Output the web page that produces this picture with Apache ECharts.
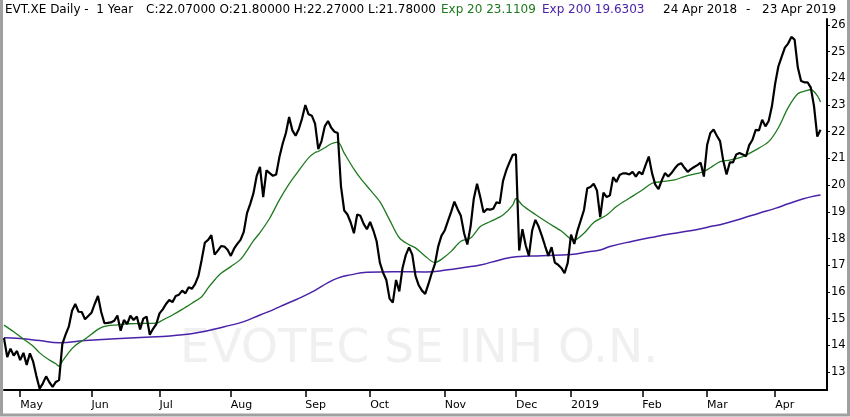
<!DOCTYPE html>
<html>
<head>
<meta charset="utf-8">
<script src="https://cdn.jsdelivr.net/npm/echarts@6/dist/echarts.min.js"></script>
<style>
  html, body { margin: 0; padding: 0; background: #fff; }
  #chart { width: 850px; height: 417px; }
</style>
</head>
<body>
<div id="chart"></div>
<script>
// trading calendar (Xetra), 24 Apr 2018 - 23 Apr 2019
const holidays = ["2018-05-01", "2018-12-24", "2018-12-25", "2018-12-26", "2018-12-31",
    "2019-01-01", "2019-04-19", "2019-04-22"];
const monthNames = ["Jan", "Feb", "Mar", "Apr", "May", "Jun", "Jul", "Aug", "Sep", "Oct", "Nov", "Dec"];
const yTicks = [13, 14, 15, 16, 17, 18, 19, 20, 21, 22, 23, 24, 25, 26];

// daily close, one value per trading day
const close = [
    14.27, 13.56, 13.88, 13.62, 13.79, 13.45, 13.72, 13.27, 13.70, 13.39,
    12.85, 12.38, 12.58, 12.84, 12.62, 12.45, 12.63, 12.70, 14.05, 14.40,
    14.70, 15.30, 15.55, 15.26, 15.25, 14.98, 15.10, 15.22, 15.55, 15.85,
    15.25, 14.83, 14.84, 14.86, 14.92, 15.12, 14.55, 14.95, 14.80, 15.11,
    14.95, 15.08, 14.60, 15.00, 15.08, 14.40, 14.62, 14.80, 15.20, 15.35,
    15.55, 15.70, 15.62, 15.85, 15.90, 16.05, 15.95, 16.18, 16.12, 16.30,
    16.60, 17.20, 17.85, 17.95, 18.13, 17.40, 17.55, 17.72, 17.70, 17.58,
    17.35, 17.62, 17.80, 17.95, 18.25, 18.95, 19.30, 19.70, 20.35, 20.68,
    19.55, 20.55, 20.45, 20.35, 20.40, 21.05, 21.55, 21.95, 22.55, 22.05,
    21.85, 22.10, 22.50, 23.00, 22.65, 22.60, 22.30, 21.35, 21.65, 22.20,
    22.40, 22.15, 22.00, 21.95, 19.95, 19.05, 18.90, 18.60, 18.20, 18.90,
    18.85, 18.55, 18.35, 18.62, 18.30, 17.90, 17.10, 16.72, 16.45, 15.75,
    15.60, 16.45, 16.02, 16.90, 17.38, 17.67, 17.40, 16.60, 16.25, 16.05,
    15.93, 16.30, 16.70, 17.05, 17.70, 18.10, 18.30, 18.65, 19.00, 19.38,
    19.10, 18.85, 18.20, 17.78, 18.45, 19.50, 20.05, 19.55, 18.98, 19.10,
    19.08, 19.12, 19.36, 19.32, 20.15, 20.55, 20.85, 21.13, 21.15, 17.55,
    18.35, 17.75, 17.35, 18.30, 18.70, 18.45, 18.10, 17.72, 17.35, 17.68,
    17.10, 17.02, 16.90, 16.70, 17.10, 18.15, 17.80, 18.30, 18.68, 19.07,
    19.88, 19.93, 20.05, 19.80, 18.80, 19.72, 19.55, 19.62, 20.30, 20.12,
    20.38, 20.44, 20.44, 20.40, 20.50, 20.32, 20.50, 20.40, 20.75, 21.07,
    20.45, 20.02, 19.85, 20.18, 20.45, 20.32, 20.45, 20.62, 20.76, 20.82,
    20.65, 20.50, 20.60, 20.68, 20.75, 20.84, 20.32, 21.50, 21.95, 22.08,
    21.85, 21.65, 20.90, 20.40, 20.85, 20.85, 21.15, 21.20, 21.15, 21.08,
    21.50, 21.70, 22.07, 22.05, 22.45, 22.20, 22.40, 22.95, 23.80, 24.45,
    24.80, 25.15, 25.30, 25.55, 25.45, 24.40, 23.90, 23.85, 23.85, 23.65,
    22.95, 21.82, 22.07
];

// [trading day index, value]
const ema20 = [
    [0, 14.76], [3, 14.51], [6, 14.24], [9, 13.97], [11, 13.72], [14, 13.45], [16, 13.31],
    [17, 13.22], [18, 13.40], [20, 13.74], [22, 14.00], [25, 14.24], [27, 14.42], [29, 14.60],
    [31, 14.71], [35, 14.77], [38, 14.81], [42, 14.82], [47, 14.83], [49, 14.95], [52, 15.14],
    [55, 15.35], [58, 15.58], [61, 15.82], [63, 16.15], [65, 16.45], [67, 16.70], [70, 16.95],
    [73, 17.22], [75, 17.55], [77, 17.92], [79, 18.22], [82, 18.76], [85, 19.45], [88, 20.05],
    [91, 20.55], [94, 21.02], [96, 21.22], [97, 21.26], [99, 21.40], [101, 21.55], [103, 21.61],
    [105, 21.20], [108, 20.60], [110, 20.26], [113, 19.82], [116, 19.38], [119, 18.70],
    [122, 18.03], [125, 17.77], [127, 17.65], [130, 17.34], [133, 17.10], [135, 17.22],
    [138, 17.52], [141, 17.90], [144, 18.02], [147, 18.45], [150, 18.63], [154, 18.88],
    [157, 19.25], [158, 19.50], [160, 19.25], [164, 18.90], [168, 18.58], [172, 18.28],
    [175, 17.97], [176, 17.95], [179, 18.20], [182, 18.60], [186, 18.88], [189, 19.20],
    [193, 19.51], [197, 19.82], [200, 20.07], [203, 20.13], [207, 20.20], [210, 20.32],
    [214, 20.44], [216, 20.51], [218, 20.65], [221, 20.88], [224, 20.94], [228, 21.07],
    [232, 21.32], [236, 21.63], [239, 22.15], [242, 22.90], [245, 23.42], [248, 23.55],
    [249, 23.58], [251, 23.35], [252, 23.11]
];

const ema200 = [
    [0, 14.29], [5, 14.26], [11, 14.18], [17, 14.10], [25, 14.18], [33, 14.24], [42, 14.30],
    [49, 14.33], [55, 14.40], [60, 14.48], [68, 14.70], [74, 14.89], [79, 15.14], [83, 15.33],
    [87, 15.55], [91, 15.76], [96, 16.06], [100, 16.35], [103, 16.52], [107, 16.64],
    [112, 16.74], [120, 16.76], [130, 16.75], [137, 16.83], [142, 16.92], [147, 17.01],
    [153, 17.20], [158, 17.32], [166, 17.36], [175, 17.40], [180, 17.50], [184, 17.57],
    [187, 17.70], [194, 17.90], [201, 18.07], [208, 18.22], [214, 18.34], [218, 18.45],
    [221, 18.52], [228, 18.76], [233, 18.95], [238, 19.13], [242, 19.30], [246, 19.46],
    [249, 19.56], [252, 19.63]
];

function buildDays(start, end) {
    const out = [];
    const d = new Date(start + "T00:00:00Z");
    const stop = new Date(end + "T00:00:00Z");
    while (d <= stop) {
        const s = d.toISOString().slice(0, 10);
        const wd = d.getUTCDay();
        if (wd !== 0 && wd !== 6 && !holidays.includes(s)) out.push(s);
        d.setUTCDate(d.getUTCDate() + 1);
    }
    return out;
}

const days = buildDays("2018-04-24", "2019-04-23");
// two empty slots after the last day, the axis runs a bit past it
const categories = days.concat(["", ""]);

function isMonthStart(i) {
    if (i <= 0 || i >= days.length) return false;
    return days[i].slice(5, 7) !== days[i - 1].slice(5, 7);
}

const FONT = "DejaVu Sans";
const TITLE_FONT = "12px 'DejaVu Sans'";
const GREEN = "#1e7a1e";
const PURPLE = "#4a22a8";

const chart = echarts.init(document.getElementById("chart"));

chart.setOption({
    animation: false,
    backgroundColor: "#fff",
    grid: { left: 4, right: 23, top: 19, bottom: 27 },
    xAxis: {
        type: "category",
        data: categories,
        boundaryGap: false,
        axisLine: { show: true, lineStyle: { color: "#000", width: 2 } },
        axisTick: {
            show: true,
            length: 7,
            interval: (i) => isMonthStart(i),
            lineStyle: { color: "#000", width: 1.5 }
        },
        axisLabel: {
            interval: (i) => isMonthStart(i),
            align: "left",
            margin: 10,
            color: "#000",
            fontFamily: FONT,
            fontSize: 11,
            formatter: (v) => {
                if (!v) return "";
                const m = +v.slice(5, 7);
                return m === 1 ? v.slice(0, 4) : monthNames[m - 1];
            }
        },
        splitLine: { show: false }
    },
    yAxis: {
        type: "value",
        position: "right",
        min: 12.33,
        max: 26.22,
        axisLine: { show: true, lineStyle: { color: "#000", width: 2 } },
        axisTick: {
            show: true,
            length: 3,
            customValues: yTicks,
            lineStyle: { color: "#000" }
        },
        axisLabel: {
            customValues: yTicks,
            margin: 4,
            color: "#000",
            fontFamily: FONT,
            fontSize: 11.5
        },
        splitLine: { show: false }
    },
    graphic: [
        {
            type: "text", left: 180, top: 326, z: 0,
            style: { text: "EVOTEC SE INH O.N.", fill: "#f0f0f0", font: "47px 'DejaVu Sans'" }
        },
        { type: "text", x: 5, y: 10, style: { text: "EVT.XE Daily -  1 Year", fill: "#000", font: TITLE_FONT, verticalAlign: "middle" } },
        { type: "text", x: 146, y: 10, style: { text: "C:22.07000 O:21.80000 H:22.27000 L:21.78000", fill: "#000", font: TITLE_FONT, verticalAlign: "middle" } },
        { type: "text", x: 441, y: 10, style: { text: "Exp 20 23.1109", fill: GREEN, font: TITLE_FONT, verticalAlign: "middle" } },
        { type: "text", x: 542, y: 10, style: { text: "Exp 200 19.6303", fill: PURPLE, font: TITLE_FONT, verticalAlign: "middle" } },
        { type: "text", x: 663, y: 10, style: { text: "24 Apr 2018", fill: "#000", font: TITLE_FONT, verticalAlign: "middle" } },
        { type: "text", x: 746, y: 10, style: { text: "-", fill: "#000", font: TITLE_FONT, verticalAlign: "middle" } },
        { type: "text", x: 762, y: 10, style: { text: "23 Apr 2019", fill: "#000", font: TITLE_FONT, verticalAlign: "middle" } },
        {
            type: "rect", z: 100, silent: true,
            shape: { x: 1.5, y: -4, width: 847, height: 419 },
            style: { fill: "none", stroke: "#a0a0a0", lineWidth: 3 }
        }
    ],
    series: [
        {
            name: "Exp 200",
            type: "line",
            data: ema200,
            smooth: true,
            symbol: "none",
            lineStyle: { color: PURPLE, width: 1.5 },
            z: 2
        },
        {
            name: "Exp 20",
            type: "line",
            data: ema20,
            smooth: 0.3,
            symbol: "none",
            lineStyle: { color: GREEN, width: 1.3 },
            z: 3
        },
        {
            name: "EVT.XE",
            type: "line",
            data: close,
            symbol: "none",
            lineStyle: { color: "#000", width: 2.2 },
            z: 4
        }
    ]
});
</script>
</body>
</html>
